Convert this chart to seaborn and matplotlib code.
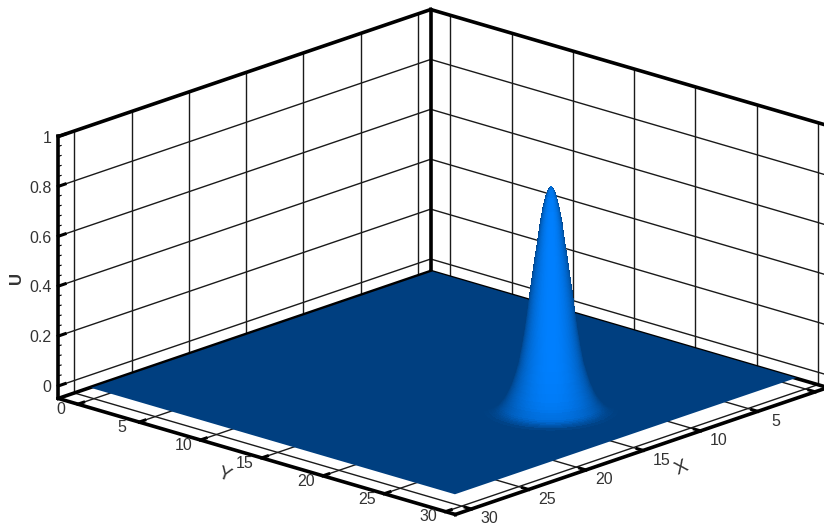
import numpy as np
import matplotlib
matplotlib.use('Agg')
import matplotlib.pyplot as plt
from mpl_toolkits.mplot3d import proj3d
import seaborn as sns

# Values
x_ticks = [0, 5, 10, 15, 20, 25, 30]
y_ticks = [0, 5, 10, 15, 20, 25, 30]
u_ticks = [0, 0.2, 0.4, 0.6, 0.8, 1]
u_minor = [0.04, 0.08, 0.12, 0.16, 0.24, 0.28, 0.32, 0.36, 0.44, 0.48, 0.52, 0.56,
           0.64, 0.68, 0.72, 0.76, 0.84, 0.88, 0.92, 0.96]
x_labels = [5, 10, 15, 20, 25, 30]
floor_x = [0.5, 30.3]
floor_y = [0, 29.7]
peak_x = 14.7
peak_y = 23.0
# radial profile of the bump
radii = [0, 0.15, 0.3, 0.5, 0.65, 0.8, 0.95, 1.1, 1.25, 1.4, 1.55, 1.7, 1.9, 2.1, 2.3, 2.5,
         2.6, 2.7, 2.8, 2.9, 3.0, 3.1, 3.2, 3.3, 3.4, 3.5, 3.6, 3.8, 4.0]
heights = [0.89, 0.88, 0.855, 0.80, 0.745, 0.672, 0.61, 0.54, 0.47, 0.39, 0.32, 0.26, 0.19,
           0.145, 0.105, 0.075, 0.062, 0.05, 0.041, 0.033, 0.025, 0.018, 0.013, 0.009,
           0.006, 0.004, 0.002, 0.001, 0]

xlim = (-1.1, 31.4)
ylim = (-1.6, 30.8)
zlim = (-0.05, 1)
elev, azim = 18.4, 42.8

sns.set_theme(style='white')
plt.rcParams['font.family'] = ['Liberation Sans', 'DejaVu Sans']
ramp = sns.blend_palette(['#003F80', '#0080FF'], as_cmap=True)

fig = plt.figure(figsize=(8.24, 5.25), dpi=100)
ax = fig.add_axes([173.4 / 824, -6.6 / 525, 525 / 824, 1], projection='3d', computed_zorder=False)
ax.set_proj_type('ortho')
ax.view_init(elev=elev, azim=azim)
ax.set_box_aspect((548, 541, 276), zoom=1.513)
ax.set_xlim(*xlim, view_margin=0)
ax.set_ylim(*ylim, view_margin=0)
ax.set_zlim(*zlim, view_margin=0)
ax.set_axis_off()


def seg(xs, ys, zs, lw=1.0, color='#1a1a1a', z=1):
    ax.plot(xs, ys, zs, color=color, lw=lw, zorder=z, clip_on=False, solid_capstyle='projecting')


def label(x, y, z, s, size=11.5, **kw):
    # placed as plain 2D text at the projected spot
    px, py, _ = proj3d.proj_transform(x, y, z, ax.get_proj())
    ax.text2D(px, py, s, transform=ax.transData, ha=kw.pop('ha', 'center'), va='center',
              fontsize=size, color='#333333', clip_on=False, zorder=6, **kw)


# wall and floor grid
for v in x_ticks:
    seg([v, v], [ylim[0], ylim[0]], zlim)
    seg([v, v], ylim, [zlim[0], zlim[0]], z=2)
for v in y_ticks:
    seg([xlim[0], xlim[0]], [v, v], zlim)
    seg(xlim, [v, v], [zlim[0], zlim[0]], z=2)
for v in u_ticks:
    seg([xlim[1], xlim[0]], [ylim[0], ylim[0]], [v, v])
    seg([xlim[0], xlim[0]], [ylim[0], ylim[1]], [v, v])

# back part of the box, under the surface
seg(xlim, [ylim[0], ylim[0]], [zlim[0], zlim[0]], lw=2.6, color='black', z=2)
seg([xlim[0], xlim[0]], ylim, [zlim[0], zlim[0]], lw=2.6, color='black', z=2)
seg(xlim, [ylim[0], ylim[0]], [zlim[1], zlim[1]], lw=2.6, color='black', z=2)
seg([xlim[0], xlim[0]], ylim, [zlim[1], zlim[1]], lw=2.6, color='black', z=2)
seg([xlim[0], xlim[0]], [ylim[0], ylim[0]], zlim, lw=2.6, color='black', z=2)

# flat part of the surface
fx, fy = np.meshgrid(floor_x, floor_y)
floor = ax.plot_surface(fx, fy, np.zeros_like(fx), color='#003F80', shade=False,
                        linewidth=0, antialiased=False, zorder=3)
floor.set_clip_on(False)

# bump, a surface of revolution of the profile, lit from the viewer side
theta = np.radians(np.arange(0, 362, 2))
r = np.array(radii)
h = np.array(heights)
bx = peak_x + np.outer(r, np.cos(theta))
by = peak_y + np.outer(r, np.sin(theta))
bz = np.outer(h, np.ones_like(theta))
slope = -np.gradient(h, r) * 15.6
facing = np.outer(slope / np.sqrt(1 + slope ** 2), np.cos(theta - np.radians(azim)))
bump = ax.plot_surface(bx, by, bz, facecolors=ramp(np.clip(facing, 0, 1)), shade=False,
                       rstride=1, cstride=1, linewidth=0, antialiased=False, zorder=4)
bump.set_clip_on(False)

# front part of the box with its tick marks
seg([xlim[1], xlim[1]], [ylim[0], ylim[0]], zlim, lw=2.6, color='black', z=5)
seg([xlim[1], xlim[1]], ylim, [zlim[0], zlim[0]], lw=2.6, color='black', z=5)
seg(xlim, [ylim[1], ylim[1]], [zlim[0], zlim[0]], lw=2.6, color='black', z=5)
for v in u_ticks:
    seg([xlim[1], xlim[1] - 0.6], [ylim[0], ylim[0]], [v, v], lw=2.2, color='black', z=5)
for v in u_minor:
    seg([xlim[1], xlim[1] - 0.25], [ylim[0], ylim[0]], [v, v], lw=0.8, color='black', z=5)
for v in x_ticks:
    seg([v, v], [ylim[1], ylim[1] - 0.5], [zlim[0], zlim[0]], lw=2.2, color='black', z=5)
for v in y_ticks:
    seg([xlim[1], xlim[1] - 0.5], [v, v], [zlim[0], zlim[0]], lw=2.2, color='black', z=5)

# tick labels and axis titles
for v in u_ticks:
    label(xlim[1], ylim[0] - 0.55, v - 0.015, f'{v:g}', ha='right')
for v in y_ticks:
    label(xlim[1] + 1.7, v + 0.2, zlim[0] + 0.008, str(v))
for v in x_labels:
    label(v + 0.235, ylim[1] + 1.69, zlim[0] - 0.012, str(v))
label(xlim[1] + 3.87, 15.53, zlim[0], 'Y', size=14, rotation=-20)
label(15.52, ylim[1] + 3.6, zlim[0] - 0.012, 'X', size=14, rotation=25)
label(xlim[1], ylim[0] - 3.44, 0.384, 'U', size=12, fontweight='bold', rotation=90)

fig.savefig('out.png', dpi=100)
